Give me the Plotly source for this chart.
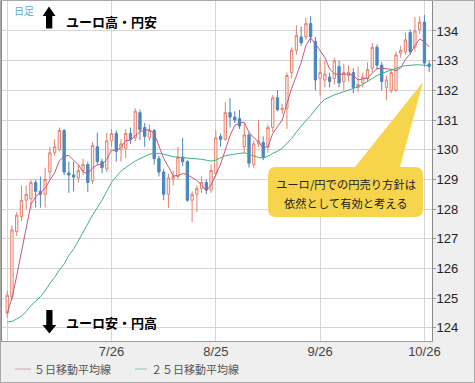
import plotly.graph_objects as go
import pandas as pd

# ---------------- data ----------------
dates = pd.bdate_range("2017-06-26", "2017-10-27")
date_labels = [f"{d.month}/{d.day}" for d in dates]

open_ = [124.50, 125.05, 127.25, 127.75, 128.30, 128.35, 128.90, 128.60, 128.50, 129.25,
         129.90, 130.00, 130.65, 129.22, 129.15, 129.05, 129.30, 129.50, 128.95, 130.10,
         129.60, 129.35, 130.30, 130.55, 130.00, 130.05, 130.55, 130.40, 131.25, 130.75,
         130.40, 130.65, 129.70, 129.25, 128.50, 129.00, 129.10, 129.75, 129.60, 128.30,
         128.50, 128.70, 128.90, 128.65, 129.20, 130.45, 130.35, 131.25, 131.10, 131.05,
         130.10, 130.50, 129.50, 130.20, 130.25, 130.10, 130.75, 131.75, 131.35, 131.40,
         132.60, 133.35, 133.80, 133.80, 134.25, 133.65, 132.40, 132.35, 132.45, 132.40,
         132.80, 132.30, 132.50, 132.60, 132.10, 132.25, 132.40, 132.75, 133.45, 132.85,
         132.10, 132.00, 132.00, 133.25, 133.30, 133.95, 133.45, 134.05, 134.30, 132.89]
high = [125.25, 127.45, 127.90, 128.80, 128.80, 129.00, 129.00, 129.10, 129.40, 130.10,
        130.35, 130.75, 130.70, 129.60, 129.60, 129.50, 129.70, 129.60, 130.26, 130.57,
        129.70, 130.57, 130.70, 130.65, 130.35, 130.70, 130.75, 131.40, 131.35, 130.90,
        130.85, 130.70, 129.80, 129.35, 129.20, 129.30, 130.10, 130.40, 129.65, 128.60,
        128.80, 129.10, 129.00, 129.50, 130.67, 130.55, 131.60, 131.74, 131.30, 131.34,
        130.90, 130.60, 130.30, 131.00, 130.45, 130.85, 131.85, 132.00, 131.55, 132.60,
        133.45, 134.20, 134.15, 134.45, 134.50, 133.80, 133.10, 133.00, 132.60, 133.10,
        133.00, 132.90, 132.85, 132.75, 132.80, 132.60, 132.95, 133.60, 133.55, 132.95,
        132.50, 132.70, 133.30, 133.50, 133.95, 134.05, 134.47, 134.50, 134.54, 133.00]
low = [124.35, 124.95, 127.10, 127.60, 128.00, 128.00, 128.05, 128.05, 128.05, 129.00,
       129.80, 129.95, 129.15, 128.55, 128.60, 128.90, 129.15, 128.58, 128.85, 129.50,
       129.20, 129.25, 130.10, 129.60, 129.60, 129.72, 130.20, 130.30, 130.33, 130.10,
       130.30, 129.50, 129.10, 128.30, 128.04, 128.80, 129.00, 129.45, 128.25, 127.57,
       127.90, 128.55, 128.50, 128.55, 129.10, 130.10, 130.30, 130.75, 130.90, 130.70,
       129.90, 129.40, 129.39, 130.10, 129.65, 129.90, 130.60, 131.30, 131.20, 130.70,
       132.40, 133.20, 133.50, 133.70, 133.60, 132.00, 131.80, 132.10, 132.10, 132.20,
       132.10, 132.00, 132.30, 131.90, 131.95, 132.10, 132.30, 132.60, 132.70, 132.00,
       131.68, 131.90, 131.95, 133.10, 133.20, 133.20, 133.30, 133.90, 132.80, 132.62]
close = [125.10, 127.30, 127.80, 128.30, 128.50, 128.90, 128.60, 128.50, 129.00, 129.90,
         130.10, 130.65, 129.25, 129.15, 129.08, 129.30, 129.50, 128.90, 130.15, 129.60,
         129.40, 130.30, 130.55, 129.95, 130.20, 130.55, 130.35, 131.30, 130.67, 130.45,
         130.65, 129.70, 129.25, 128.50, 129.05, 129.10, 129.75, 129.60, 128.30, 128.50,
         128.70, 128.90, 128.65, 129.30, 130.40, 130.35, 131.25, 131.10, 131.00, 130.80,
         130.50, 129.55, 130.20, 130.30, 129.75, 130.75, 131.75, 131.35, 131.40, 132.50,
         133.35, 133.85, 133.60, 134.25, 133.80, 132.35, 132.60, 132.55, 132.30, 133.00,
         132.25, 132.60, 132.60, 132.10, 132.20, 132.45, 132.70, 133.45, 132.85, 132.30,
         132.35, 132.60, 133.20, 133.35, 133.70, 133.30, 134.00, 134.30, 132.92, 132.80]

ma5 = [124.50, 125.00, 125.75, 126.55, 127.40, 128.16, 128.42, 128.56, 128.70, 128.98,
       129.22, 129.63, 129.78, 129.81, 129.65, 129.49, 129.26, 129.19, 129.39, 129.49,
       129.51, 129.67, 130.00, 129.96, 130.08, 130.31, 130.32, 130.47, 130.61, 130.66,
       130.68, 130.55, 130.14, 129.71, 129.43, 129.12, 129.13, 129.20, 129.16, 129.05,
       128.97, 128.80, 128.61, 128.81, 129.19, 129.52, 129.99, 130.48, 130.82, 130.90,
       130.93, 130.59, 130.41, 130.27, 130.06, 130.11, 130.55, 130.78, 131.00, 131.55,
       132.07, 132.49, 132.94, 133.51, 133.77, 133.57, 133.32, 133.11, 132.72, 132.56,
       132.54, 132.54, 132.55, 132.51, 132.35, 132.39, 132.41, 132.58, 132.73, 132.75,
       132.73, 132.71, 132.66, 132.76, 133.04, 133.23, 133.51, 133.73, 133.64, 133.46]
ma25 = [124.20, 124.22, 124.30, 124.40, 124.55, 124.75, 124.90, 125.05, 125.25, 125.50,
        125.70, 125.95, 126.15, 126.45, 126.65, 126.95, 127.20, 127.50, 127.80, 128.05,
        128.30, 128.60, 128.90, 129.10, 129.28, 129.40, 129.52, 129.62, 129.70, 129.78,
        129.85, 129.88, 129.88, 129.85, 129.80, 129.77, 129.75, 129.74, 129.72, 129.72,
        129.70, 129.68, 129.65, 129.62, 129.65, 129.72, 129.80, 129.83, 129.86, 129.88,
        129.90, 129.85, 129.80, 129.74, 129.72, 129.78, 129.88, 129.95, 130.05, 130.20,
        130.38, 130.60, 130.80, 130.98, 131.15, 131.35, 131.55, 131.70, 131.78, 131.85,
        131.90, 131.95, 132.00, 132.07, 132.12, 132.20, 132.30, 132.42, 132.50, 132.57,
        132.63, 132.69, 132.75, 132.80, 132.83, 132.85, 132.86, 132.86, 132.85, 132.83]

tick_dates = ["6/26", "7/26", "8/25", "9/26", "10/26"]
tick_labels = ["", "7/26", "8/25", "9/26", "10/26"]
y_ticks = [124, 125, 126, 127, 128, 129, 130, 131, 132, 133, 134]

legend_names = ["５日移動平均線", "２５日移動平均線"]
callout_lines = ["ユーロ/円での円売り方針は", "依然として有効と考える"]

# ---------------- figure ----------------
W, H = 475, 383
ML, MR, MT, MB = 2, 43, 1, 42
PW, PH = W - ML - MR, H - MT - MB

def px(x):
    return (x - ML) / PW

def py(y):
    return (H - MB - y) / PH

xs = list(range(len(dates)))
tickvals = [date_labels.index(t) for t in tick_dates]

fig = go.Figure()
fig.add_trace(go.Candlestick(
    x=xs, open=open_, high=high, low=low, close=close,
    increasing=dict(line=dict(color="#e5806c", width=1), fillcolor="#fdf1ee"),
    decreasing=dict(line=dict(color="#4a86c0", width=1), fillcolor="#4a86c0"),
    whiskerwidth=0, showlegend=False, hoverinfo="skip"))
fig.add_trace(go.Scatter(x=xs, y=ma5, mode="lines",
                         line=dict(color="#c4577f", width=1), showlegend=False,
                         hoverinfo="skip"))
fig.add_trace(go.Scatter(x=xs, y=ma25, mode="lines",
                         line=dict(color="#3db47a", width=1), showlegend=False,
                         hoverinfo="skip"))

cjk = "Noto Sans CJK JP"
shapes = []
# outer border of the whole picture
shapes.append(dict(type="rect", xref="paper", yref="paper",
                   x0=px(0.5), x1=px(W - 0.5), y0=py(0.5), y1=py(H - 0.5),
                   line=dict(color="#a8a8a8", width=1), layer="above"))

def path(points):
    return " ".join(points)

def P(cmd, x, y):
    return f"{cmd} {px(x):.5f},{py(y):.5f}"

# yellow callout (rounded box with pointer)
bx0, bx1, by0, by1, r = 268, 423, 167, 217, 8
pts = [P("M", bx0 + r, by0), P("L", 355, by0), P("L", 423, 82), P("L", 400, by0),
       P("L", bx1 - r, by0),
       f"Q {px(bx1):.5f},{py(by0):.5f} {px(bx1):.5f},{py(by0 + r):.5f}",
       P("L", bx1, by1 - r),
       f"Q {px(bx1):.5f},{py(by1):.5f} {px(bx1 - r):.5f},{py(by1):.5f}",
       P("L", bx0 + r, by1),
       f"Q {px(bx0):.5f},{py(by1):.5f} {px(bx0):.5f},{py(by1 - r):.5f}",
       P("L", bx0, by0 + r),
       f"Q {px(bx0):.5f},{py(by0):.5f} {px(bx0 + r):.5f},{py(by0):.5f}", "Z"]
shapes.append(dict(type="path", xref="paper", yref="paper", path=path(pts),
                   fillcolor="#f6d44b", line=dict(width=0), layer="above"))

# up arrow
up = [P("M", 49, 6.5), P("L", 55.5, 16), P("L", 52.3, 16), P("L", 52.3, 28.5),
      P("L", 46, 28.5), P("L", 46, 16), P("L", 42.7, 16), "Z"]
shapes.append(dict(type="path", xref="paper", yref="paper", path=path(up),
                   fillcolor="#000000", line=dict(width=0), layer="above"))
# down arrow
dn = [P("M", 46.3, 310), P("L", 52.5, 310), P("L", 52.5, 325), P("L", 56.3, 325),
      P("L", 49.4, 333.5), P("L", 42.5, 325), P("L", 46.3, 325), "Z"]
shapes.append(dict(type="path", xref="paper", yref="paper", path=path(dn),
                   fillcolor="#000000", line=dict(width=0), layer="above"))

# custom legend lines
shapes.append(dict(type="line", xref="paper", yref="paper", x0=px(15), x1=px(31),
                   y0=py(369), y1=py(369), line=dict(color="#dc9cb2", width=1)))
shapes.append(dict(type="line", xref="paper", yref="paper", x0=px(135), x1=px(147),
                   y0=py(369), y1=py(369), line=dict(color="#86c8a6", width=1)))

annotations = [
    dict(text="日足", x=px(12), y=py(10), xanchor="left", yanchor="middle",
         font=dict(family=cjk, size=10, color="#5aaedc")),
    dict(text="<b>ユーロ高・円安</b>", x=px(64), y=py(21), xanchor="left", yanchor="middle",
         font=dict(family=cjk, size=13, color="#000000")),
    dict(text="<b>ユーロ安・円高</b>", x=px(64), y=py(322.5), xanchor="left", yanchor="middle",
         font=dict(family=cjk, size=13, color="#000000")),
    dict(text=callout_lines[0], x=px(346), y=py(184), xanchor="center", yanchor="middle",
         font=dict(family=cjk, size=11.3, color="#222222")),
    dict(text=callout_lines[1], x=px(346), y=py(202.5), xanchor="center", yanchor="middle",
         font=dict(family=cjk, size=11.3, color="#222222")),
    dict(text=legend_names[0], x=px(32), y=py(369), xanchor="left", yanchor="middle",
         font=dict(family=cjk, size=11, color="#555555")),
    dict(text=legend_names[1], x=px(149), y=py(369), xanchor="left", yanchor="middle",
         font=dict(family=cjk, size=11, color="#555555")),
]
for a in annotations:
    a.update(xref="paper", yref="paper", showarrow=False)

fig.update_layout(
    width=W, height=H,
    margin=dict(l=ML, r=MR, t=MT, b=MB, pad=0),
    paper_bgcolor="#efefef", plot_bgcolor="#ffffff",
    shapes=shapes, annotations=annotations, showlegend=False,
    xaxis=dict(range=[-1.1, 89.6], tickmode="array", tickvals=tickvals,
               ticktext=tick_labels, showgrid=True, gridcolor="#d6d6d6", gridwidth=1,
               zeroline=False, showline=True, linecolor="#9a9a9a", linewidth=1,
               mirror=True, ticks="", rangeslider=dict(visible=False),
               ticklabelstandoff=-2,
               tickfont=dict(family="Liberation Sans", size=13, color="#444444"),
               fixedrange=True),
    yaxis=dict(range=[123.56, 135.01], side="right", tickmode="array",
               tickvals=y_ticks, ticktext=[str(v) for v in y_ticks],
               showgrid=True, gridcolor="#d6d6d6", gridwidth=1, zeroline=False,
               showline=True, linecolor="#8a8a8a", linewidth=1, mirror=True,
               ticks="outside", ticklen=3, tickcolor="#9a9a9a",
               ticklabelstandoff=-2,
               tickfont=dict(family="Liberation Sans", size=13, color="#222222"),
               fixedrange=True),
)

fig.write_html("out.html", config={"displayModeBar": False},
               post_script="document.body.style.margin='0';document.body.style.overflow='hidden';")
